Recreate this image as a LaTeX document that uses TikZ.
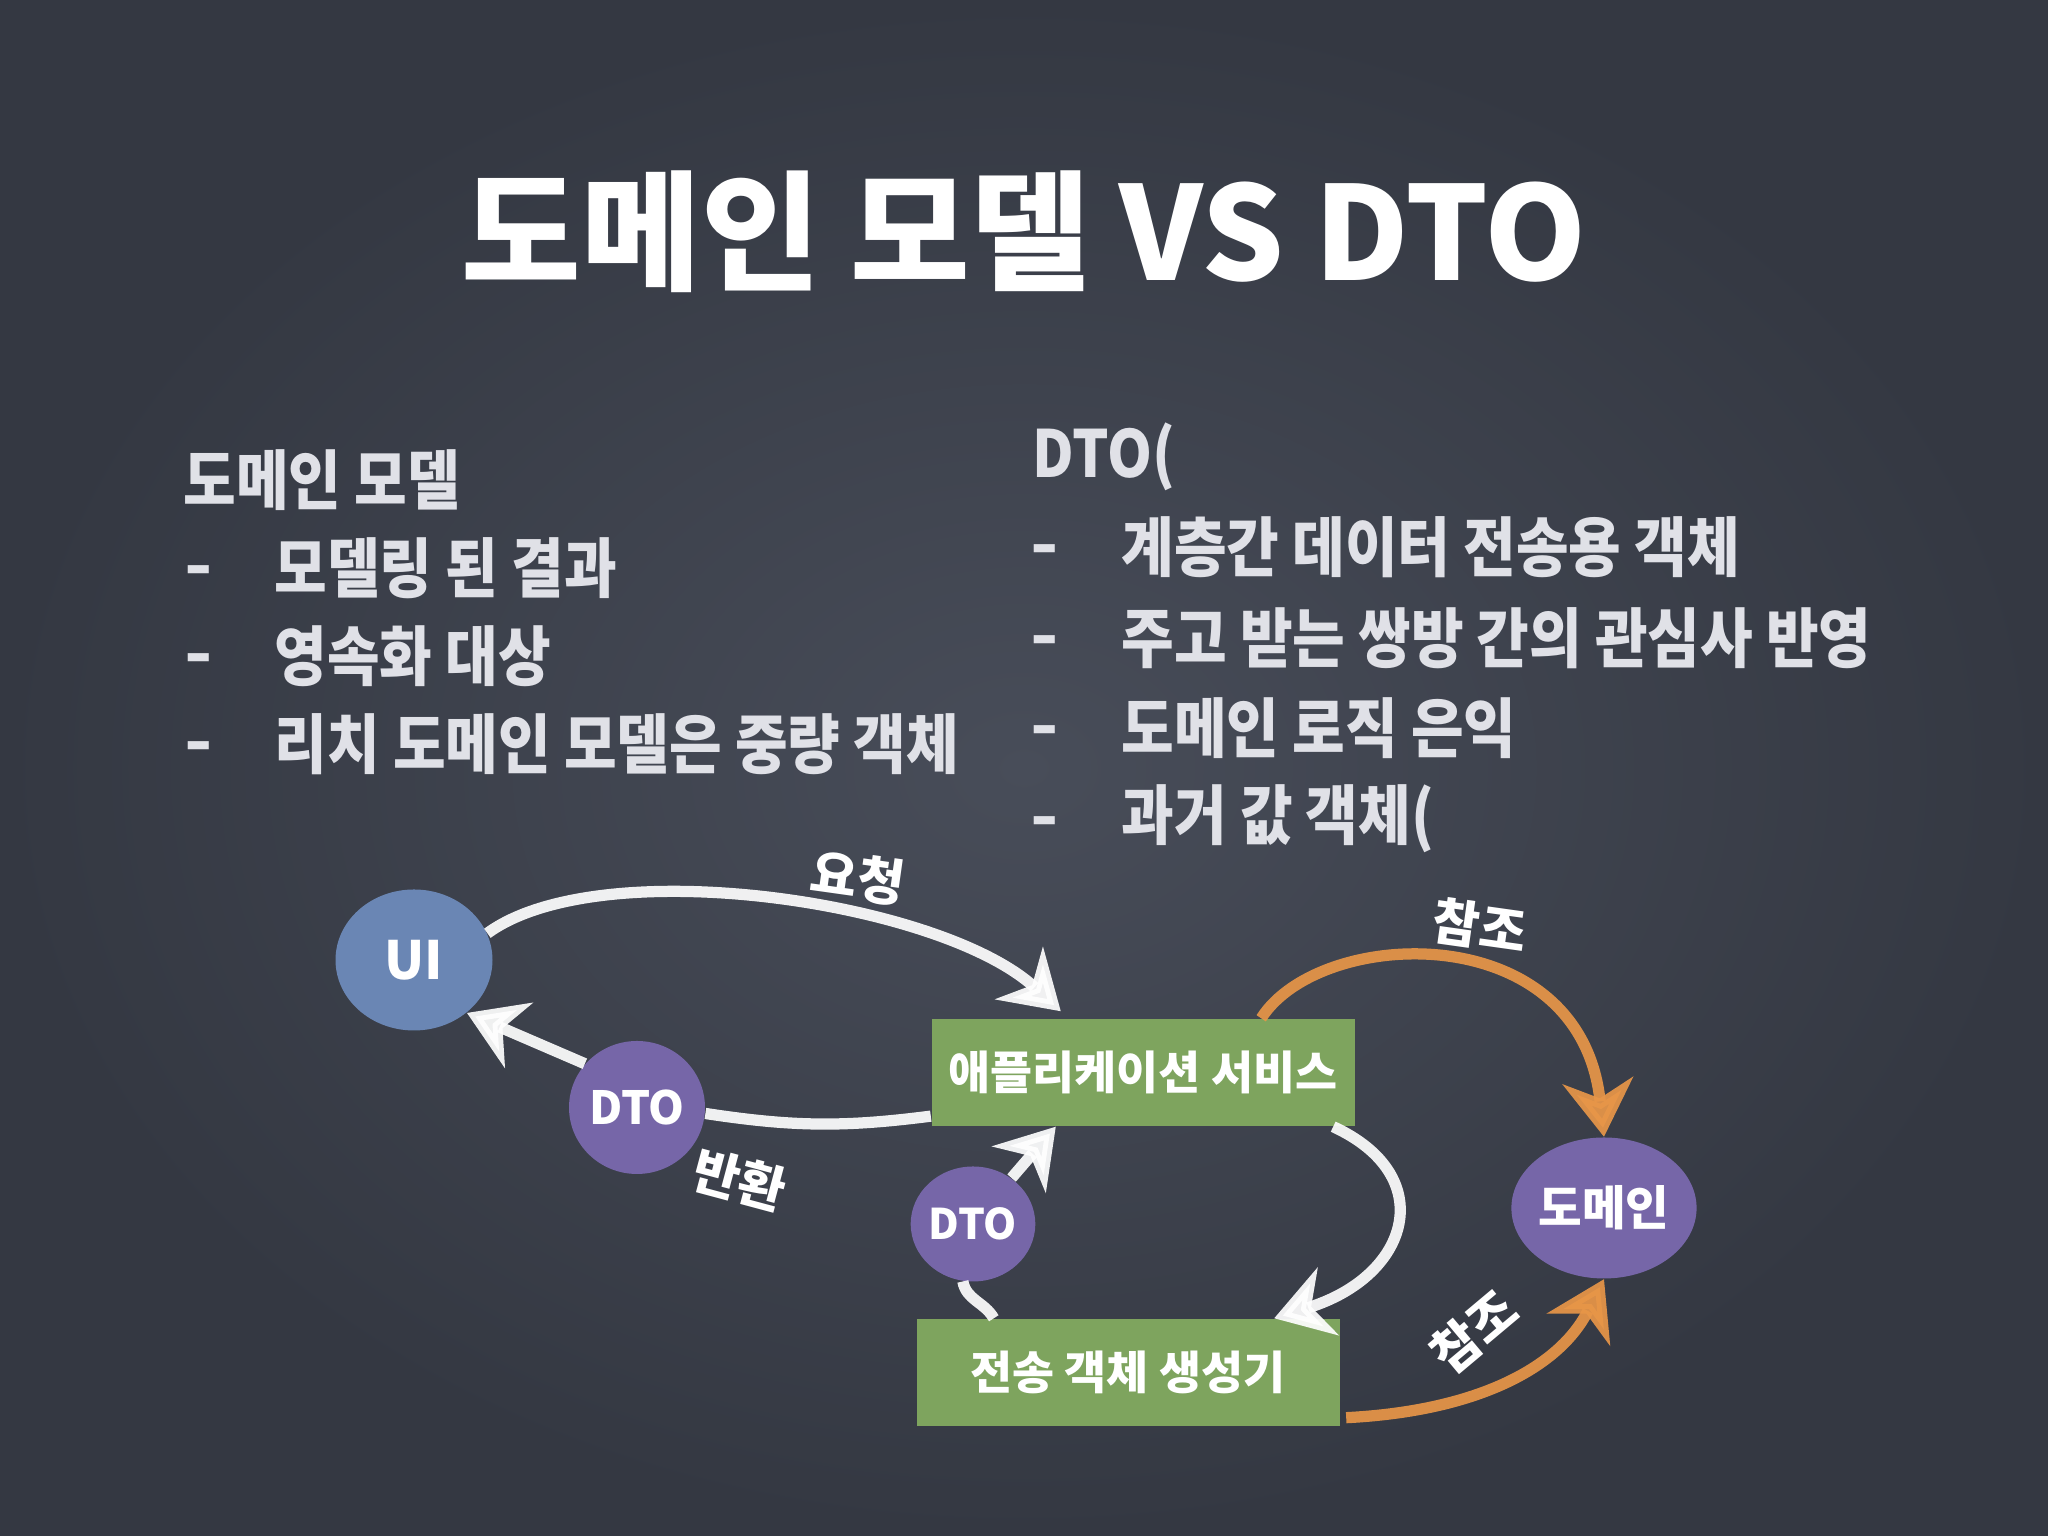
\documentclass[tikz,border=0pt]{standalone}
\usepackage{fontspec}
\setmainfont{Noto Sans CJK KR}
\newfontfamily\narrowkr{Noto Sans CJK KR}[FakeStretch=0.88]
\usetikzlibrary{arrows.meta,shapes.geometric}

\definecolor{boardlight}{RGB}{72,77,89}
\definecolor{boarddark}{RGB}{52,56,66}
\definecolor{chalktext}{RGB}{224,225,231}
\definecolor{uiblue}{RGB}{106,134,180}
\definecolor{dtopurple}{RGB}{118,102,168}
\definecolor{boxgreen}{RGB}{126,164,94}
\definecolor{chalkorange}{RGB}{232,150,72}

\begin{document}
\begin{tikzpicture}[
    chalk/.style={draw=white, line width=3.2pt, opacity=0.92},
    chalktip/.style={chalk, -{Stealth[length=16pt,width=20pt,inset=5pt]}},
    orangetip/.style={chalktip, draw=chalkorange},
    blob/.style={ellipse, text=white, inner sep=0pt, font=\bfseries\fontsize{13}{15}\selectfont},
    box/.style={rectangle, fill=boxgreen, text=white, minimum width=4.23cm, minimum height=1.07cm, font=\bfseries\fontsize{13}{15}\selectfont},
    lbl/.style={text=white, font=\bfseries\fontsize{14.5}{16}\selectfont},
    item/.style={anchor=west, inner sep=0pt, text=chalktext, font=\narrowkr\bfseries\fontsize{18.5}{22}\selectfont},
    bulletdash/.style={item, anchor=center, xscale=1.3},
]
    \useasboundingbox (0,0) rectangle (20.48,15.36);
    \shade[inner color=boardlight, outer color=boarddark] (0,0) rectangle (20.48,15.36);

    \node[name=title, text=white, font=\bfseries\fontsize{37}{42}\selectfont] at (10.24, 13.04) {도메인 모델 VS DTO};

    \node[name=lhead, item] at (1.83, 10.56) {도메인 모델};
    \foreach \txt [count=\i] in {모델링 된 결과, 영속화 대상, 리치 도메인 모델은 중량 객체}
        {
            \node[name=ldash_\i, bulletdash] at (1.985, 10.47-0.88*\i) {-};
            \node[name=litem_\i, item] at (2.74, 10.56-0.88*\i) {\txt};
        }

    \node[name=rhead, item] at (10.32, 10.79) {DTO(};
    \foreach \txt [count=\i] in {계층간 데이터 전송용 객체, 주고 받는 쌍방 간의 관심사 반영, 도메인 로직 은익, 과거 값 객체(}
        {
            \node[name=rdash_\i, bulletdash] at (10.45, 10.70-0.905*\i) {-};
            \node[name=ritem_\i, item] at (11.21, 10.79-0.905*\i) {\txt};
        }

    \node[name=ui, blob, fill=uiblue, minimum width=1.57cm, minimum height=1.41cm, font=\bfseries\fontsize{15}{17}\selectfont] at (4.14, 5.76) {UI};
    \node[name=dto1, blob, fill=dtopurple, minimum width=1.36cm, minimum height=1.33cm] at (6.37, 4.285) {DTO};
    \node[name=dto2, blob, fill=dtopurple, minimum width=1.23cm, minimum height=1.15cm, font=\bfseries\fontsize{12}{14}\selectfont] at (9.73, 3.12) {DTO};
    \node[name=dom, blob, fill=dtopurple, minimum width=1.5cm, minimum height=1.41cm, font=\bfseries\fontsize{13.5}{15}\selectfont] at (16.04, 3.28) {도메인};
    \node[name=app, box] at (11.43, 4.635) {애플리케이션 서비스};
    \node[name=gen, box] at (11.28, 1.635) {전송 객체 생성기};

    \draw[chalktip] (ui.20) .. controls (6.0,6.85) and (9.4,6.35) .. ([xshift=1.3cm,yshift=2pt]app.north west);
    \node[name=req, lbl, rotate=-8] at (8.58, 6.58) {요청};
    \draw[chalk] ([yshift=3pt]app.south west) to[bend left=8] (dto1.-5);
    \draw[chalktip] (dto1.140) -- (ui.-45);
    \node[name=ret, lbl, rotate=-15] at (7.40, 3.56) {반환};
    \draw[chalk] ([xshift=0.78cm]gen.north west) to[out=120, in=-80] (dto2.-100);
    \draw[chalktip] (dto2.50) -- ([xshift=1.25cm]app.south west);
    \draw[chalktip] ([xshift=-0.22cm]app.south east) .. controls (14.4,3.6) and (14.1,2.6) .. ([xshift=-0.66cm]gen.north east);
    \draw[orangetip] ([xshift=-0.94cm]app.north east) .. controls (13.2,6.1) and (15.8,6.2) .. (dom.north);
    \node[name=ref1, lbl, rotate=-8] at (14.80, 6.10) {참조};
    \draw[orangetip] ([xshift=0.06cm,yshift=0.09cm]gen.south east) .. controls (14.8,1.25) and (15.6,1.7) .. (dom.south);
    \node[name=ref2, lbl, rotate=40] at (14.74, 2.04) {참조};
\end{tikzpicture}
\end{document}
